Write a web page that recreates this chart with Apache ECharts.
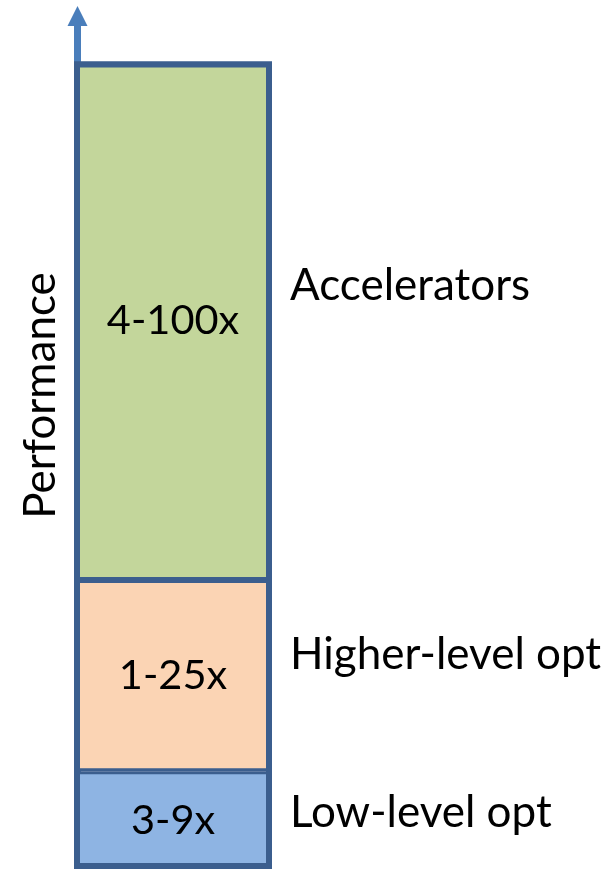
<!DOCTYPE html>
<html>
<head>
<meta charset="utf-8">
<script src="https://cdn.jsdelivr.net/npm/echarts@6/dist/echarts.min.js"></script>
<style>
html,body{margin:0;padding:0;background:#fff;}
#main{width:605px;height:869px;}
</style>
</head>
<body>
<div id="main"></div>
<script>
// ---- data ----
const category = ['Performance'];
const levels = ['Low-level opt', 'Higher-level opt', 'Accelerators'];
const heights = [10, 19.6, 53.1];            // relative segment heights
const ranges = ['3-9x', '1-25x', '4-100x'];  // labels inside each segment
const fills = ['#8EB4E3', '#FBD4B4', '#C3D69B'];
const nameOffsets = [-7, -21, -35];          // vertical shift of right-hand labels (px)
const axisMax = 87.35;

const FONT = 'Lato';
const borderColor = '#3B5E8E';

const total = heights.reduce(function (a, b) { return a + b; }, 0);

const series = levels.map(function (name, i) {
  let base = 0;
  for (let k = 0; k < i; k++) base += heights[k];
  return {
    name: name,
    type: 'bar',
    stack: 'perf',
    barWidth: '100%',
    barGap: '-100%',
    z: 2,
    data: [heights[i]],
    itemStyle: { color: fills[i], borderColor: borderColor, borderWidth: 3 },
    label: {
      show: true, position: 'inside', formatter: ranges[i],
      color: '#000', fontFamily: FONT, fontSize: 41.5
    },
    markPoint: {
      symbol: 'circle', symbolSize: 0, silent: true,
      data: [{ coord: [category[0], base + heights[i] / 2] }],
      label: {
        show: true, formatter: name, position: 'inside', align: 'left',
        offset: [117, nameOffsets[i]],
        color: '#000', fontFamily: FONT, fontSize: 44
      }
    }
  };
});

// outer frame around the whole column
series.push({
  name: 'frame',
  type: 'bar',
  barWidth: '100%',
  barGap: '-100%',
  silent: true,
  z: 5,
  data: [total],
  itemStyle: { color: 'rgba(0,0,0,0)', borderColor: borderColor, borderWidth: 6 },
  label: { show: false }
});

const chart = echarts.init(document.getElementById('main'), null, { renderer: 'canvas' });
chart.setOption({
  animation: false,
  backgroundColor: '#fff',
  grid: { left: 74, right: 333, top: 16, bottom: -3, containLabel: false },
  xAxis: {
    type: 'category', data: category, show: false
  },
  yAxis: {
    type: 'value', min: 0, max: axisMax, offset: -3.5,
    name: 'Performance', nameLocation: 'middle', nameRotate: 90, nameGap: 14.5,
    nameTextStyle: { fontFamily: FONT, fontSize: 44, color: '#000', padding: [0, 0, 0, 94] },
    axisLine: {
      show: true, symbol: ['none', 'triangle'], symbolSize: [20, 20],
      lineStyle: { color: '#4A7EBB', width: 7 }
    },
    axisTick: { show: false }, axisLabel: { show: false }, splitLine: { show: false }
  },
  series: series
});
</script>
</body>
</html>
